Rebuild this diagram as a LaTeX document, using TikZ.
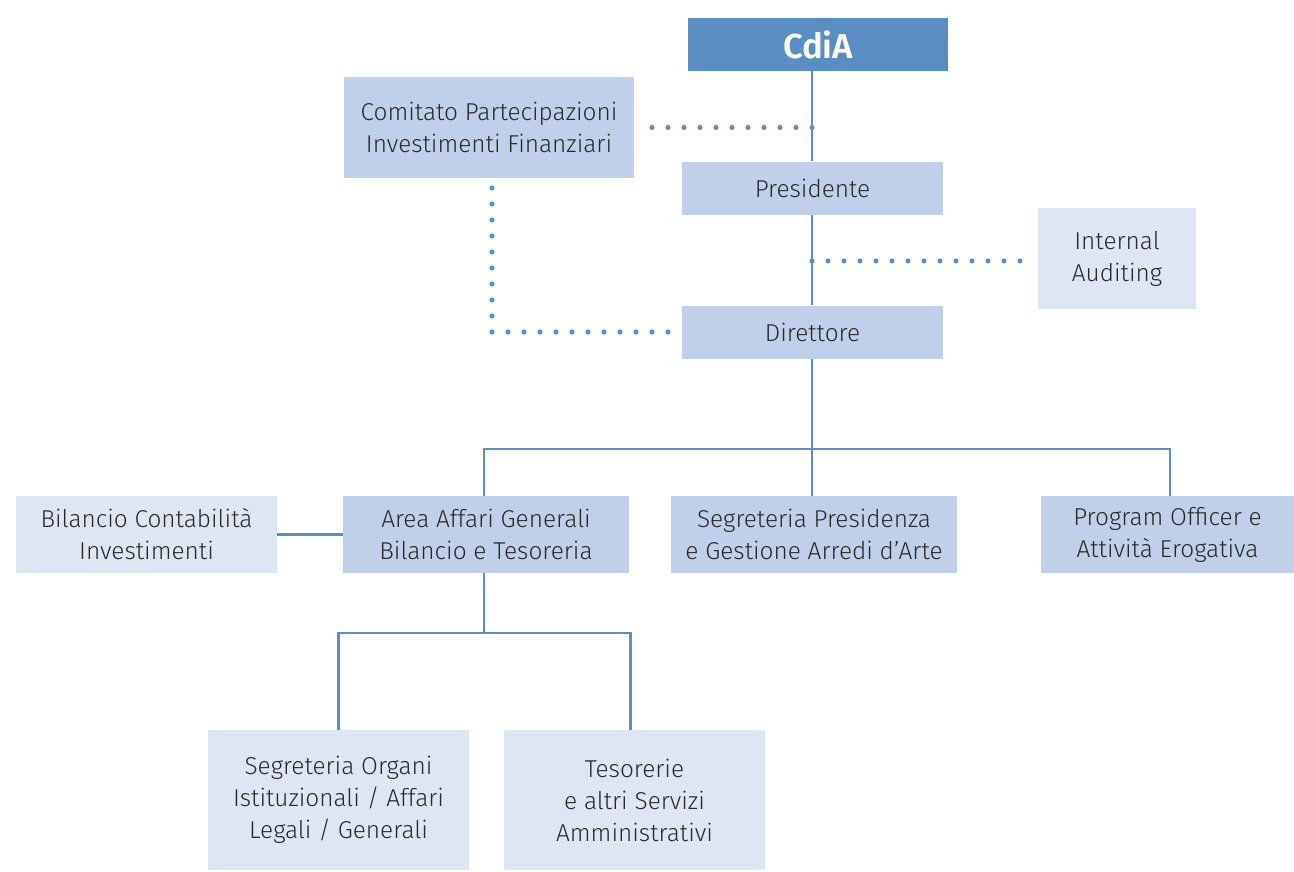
\documentclass[tikz,border=0pt]{standalone}
\usepackage{fontspec}
\setmainfont{Fira Sans Light}[BoldFont={Fira Sans SemiBold}]
\definecolor{dkblue}{HTML}{5A8EC3}
\definecolor{medblue}{HTML}{C0D0EA}
\definecolor{ltblue}{HTML}{DFE6F3}
\definecolor{lnblue}{HTML}{5B8EC3}
\definecolor{txt}{HTML}{2A2A2A}
\begin{document}
\begin{tikzpicture}[x=0.75pt,y=-0.75pt,
  box/.style={inner sep=0pt, align=center, text=txt, font=\fontsize{18.3}{24}\selectfont},
  topbox/.style={box, fill=dkblue, text=white, font=\fontsize{26}{30}\selectfont\bfseries},
  medbox/.style={box, fill=medblue},
  ltbox/.style={box, fill=ltblue},
  wh/.style 2 args={minimum width=#1*0.75pt, minimum height=#2*0.75pt},
  conn/.style={draw=lnblue, line width=1.8pt},
  dots/.style={draw=lnblue, line width=3.8pt, line cap=round, dash pattern=on 0pt off 12pt}]
\useasboundingbox (0,0) rectangle (1294,871);
\node[topbox, wh={260}{53}] (cda) at (818,44.5) {CdiA};
\node[medbox, wh={290}{101}] (com) at (489,127.5) {Comitato Partecipazioni\\Investimenti Finanziari};
\node[medbox, wh={261}{53}] (pres) at (812.5,188) {Presidente};
\node[ltbox, wh={158}{101}] (ia) at (1117,258.5) {Internal\\Auditing};
\node[medbox, wh={261}{53}] (dir) at (812.5,332) {Direttore};
\node[ltbox, wh={261}{77}] (bil) at (146.5,534.5) {Bilancio Contabilità\\Investimenti};
\node[medbox, wh={286}{77}] (area) at (486,534.5) {Area Affari Generali\\Bilancio e Tesoreria};
\node[medbox, wh={286}{77}] (segp) at (814,534.5) {Segreteria Presidenza\\e Gestione Arredi d’Arte};
\node[medbox, wh={253}{77}] (prog) at (1167.5,534.5) {Program Officer e\\Attività Erogativa};
\node[ltbox, wh={261}{140}] (sego) at (338.5,800) {Segreteria Organi\\Istituzionali / Affari\\Legali / Generali};
\node[ltbox, wh={261}{140}] (tes) at (634.5,800) {Tesorerie\\e altri Servizi\\Amministrativi};
\coordinate (spine) at (812,0);
\coordinate (bar) at (812,449);
\coordinate (bar2) at (484,633);
\coordinate (cdot) at (492,188);
% solid connectors
\draw[conn] (cda.south -| spine) -- (pres.north -| spine);
\draw[conn] (pres.south -| spine) -- (dir.north -| spine);
\draw[conn] (dir.south -| spine) -- (segp.north -| spine);
\draw[conn] ([xshift=-2*0.75pt]area.north) |- (bar) -| ([xshift=2.5*0.75pt]prog.north);
\draw[conn] (bil.east) -- (area.west);
\draw[conn] ([xshift=-2*0.75pt]area.south) -- (bar2);
\draw[conn] (sego.north) |- (bar2);
\draw[conn] ([xshift=-4*0.75pt]tes.north) |- (bar2);
% dotted connectors
\draw[dots] (com.east -| spine) -- ([xshift=10*0.75pt]com.east);
\draw[dots] (spine |- 0,261) -- ([xshift=-8*0.75pt]ia.west |- 0,261);
\draw[dots] (cdot) |- ([xshift=-10*0.75pt]dir.west);
\end{tikzpicture}
\end{document}
